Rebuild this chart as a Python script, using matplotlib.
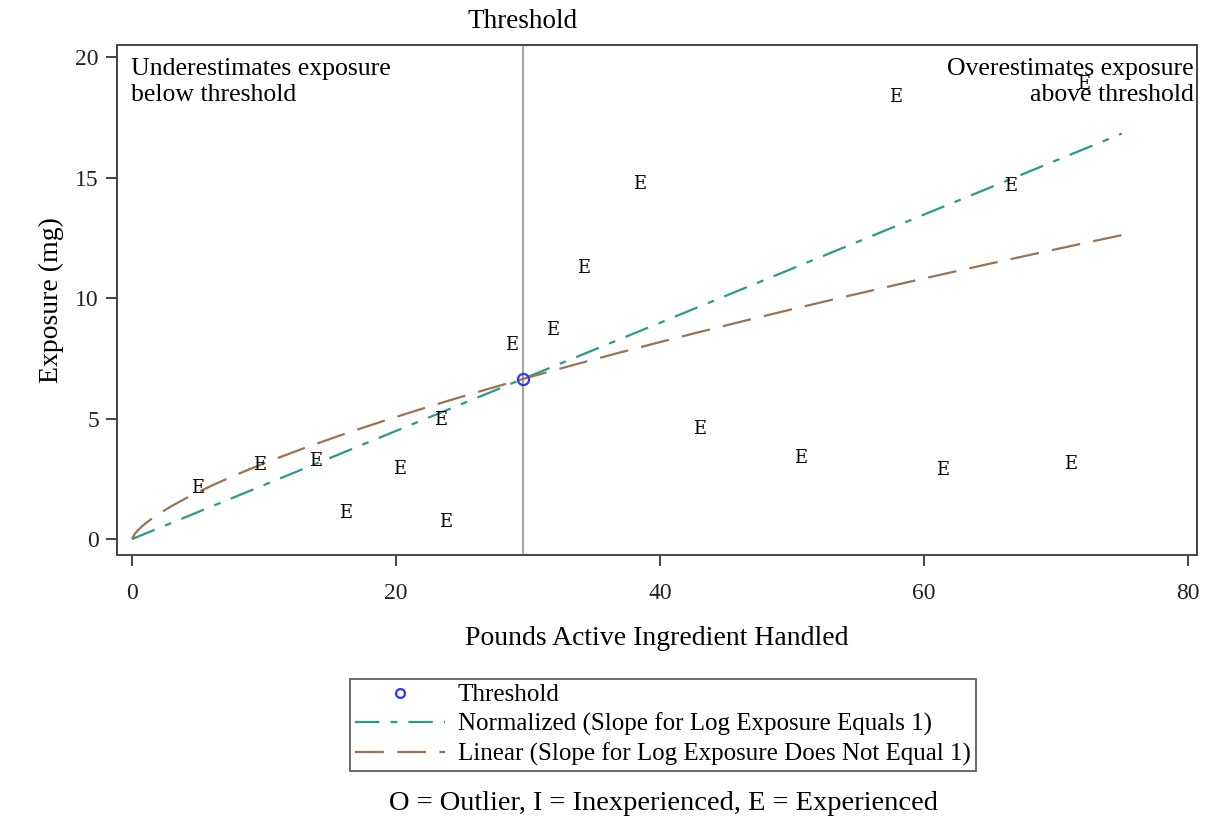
import matplotlib.pyplot as plt
import numpy as np

plt.rcParams['font.family'] = ['Liberation Serif', 'DejaVu Serif']

# experienced workers: pounds handled vs exposure (mg)
lbs = [5.0, 9.7, 13.9, 16.2, 20.3, 23.4, 23.8, 28.8, 31.9, 34.2, 38.5,
       43.0, 50.7, 61.4, 71.1, 66.6, 57.9, 72.1]
expo = [2.10, 3.07, 3.24, 1.08, 2.90, 4.94, 0.70, 8.05, 8.67, 11.24, 14.73,
        4.56, 3.36, 2.86, 3.11, 14.65, 18.34, 18.90]
labels = ['E'] * len(lbs)

thr_x = 29.6
thr_y = 6.64
x_max = 75.0
lin_exp = 0.69   # exponent of fitted log-log line (slope != 1)

teal = '#2a9a8e'
brown = '#9b7352'

fig = plt.figure(figsize=(12.11, 8.17), dpi=100)
ax = fig.add_axes([0.0966, 0.3207, 0.8918, 0.6242])

xs = np.linspace(0, x_max, 400)
norm_line, = ax.plot(xs, thr_y * xs / thr_x, color=teal, lw=1.6,
                     dashes=(11, 5, 3, 5))
lin_line, = ax.plot(xs, thr_y * (xs / thr_x) ** lin_exp, color=brown, lw=1.6,
                    dashes=(13, 6))
ax.axvline(thr_x, color='#999999', lw=1.3, zorder=1)
thr_pt, = ax.plot([thr_x], [thr_y], 'o', ms=8, mfc='none', mec='#3333ff',
                  mew=1.6, linestyle='none', zorder=5)

for x, y, s in zip(lbs, expo, labels):
    ax.text(x, y, s, family='DejaVu Serif', fontsize=13,
            ha='center', va='center', zorder=4)

ax.set_xlim(-1.14, 80.7)
ax.set_ylim(-0.66, 20.5)
ax.set_xticks([0, 20, 40, 60, 80])
ax.set_yticks([0, 5, 10, 15, 20])
ax.tick_params(direction='out', length=8, width=1.2, labelsize=17,
               colors='#222222', pad=5)
ax.tick_params(axis='x', pad=12)
for sp in ax.spines.values():
    sp.set_color('#444444')
    sp.set_linewidth(1.4)

ax.set_xlabel('Pounds Active Ingredient Handled', fontsize=20, labelpad=16)
ax.set_ylabel('Exposure (mg)', fontsize=20, labelpad=8)

ax.text(thr_x, 20.95, 'Threshold', fontsize=19.5, ha='center', va='bottom')
ax.text(0.013, 0.975, 'Underestimates exposure\nbelow threshold',
        transform=ax.transAxes, fontsize=18.5, ha='left', va='top',
        linespacing=1.25)
ax.text(0.997, 0.975, 'Overestimates exposure\nabove threshold',
        transform=ax.transAxes, fontsize=18.5, ha='right', va='top',
        linespacing=1.25)

leg = fig.legend([thr_pt, norm_line, lin_line],
                 ['Threshold', 'Normalized (Slope for Log Exposure Equals 1)',
                  'Linear (Slope for Log Exposure Does Not Equal 1)'],
                 loc='upper center', bbox_to_anchor=(0.5475, 0.169),
                 fontsize=18, fancybox=False, edgecolor='#444444',
                 handlelength=3.6, borderpad=0.2, labelspacing=0.25,
                 handletextpad=0.5, borderaxespad=0, markerscale=0.8)
leg.get_frame().set_linewidth(1.4)

fig.text(0.5475, 0.017, 'O = Outlier, I = Inexperienced, E = Experienced',
         fontsize=20.5, ha='center', va='center')

fig.savefig('out.png', dpi=100)
